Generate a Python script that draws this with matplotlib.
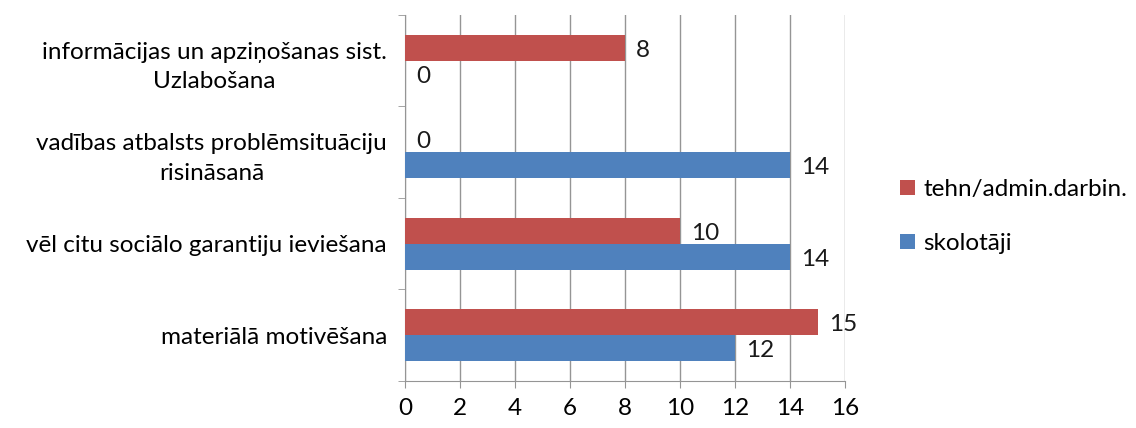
import numpy as np
import matplotlib
matplotlib.use('Agg')
import matplotlib.pyplot as plt
from matplotlib.ticker import FixedLocator

plt.rcParams['font.family'] = ['Lato', 'DejaVu Sans']

# kategorijas no apakšas uz augšu
categories = [
    'materiālā motivēšana',
    'vēl citu sociālo garantiju ieviešana',
    'vadības atbalsts problēmsituāciju\nrisināsanā',
    'informācijas un apziņošanas sist.\nUzlabošana',
]
skolotaji = [12, 14, 14, 0]
tehn_admin = [15, 10, 0, 8]
x_ticks = [0, 2, 4, 6, 8, 10, 12, 14, 16]

blue = '#4F81BD'
red = '#C0504D'
grid_col = '#959595'
fs = 17.5

fig = plt.figure(figsize=(11.36, 4.28), dpi=100)
ax = fig.add_axes([0.3565, 0.110, 0.3875, 0.855])

y = np.arange(len(categories))
h = 0.284
ax.barh(y - h / 2, skolotaji, height=h, color=blue, label='skolotāji', zorder=3)
ax.barh(y + h / 2, tehn_admin, height=h, color=red, label='tehn/admin.darbin.', zorder=3)

# vērtību etiķetes
for yi, v in zip(y, skolotaji):
    ax.text(v + 0.4, yi - h / 2 - 0.03, str(v), va='center', ha='left', fontsize=fs, color='#1a1a1a')
for yi, v in zip(y, tehn_admin):
    ax.text(v + 0.4, yi + h / 2 - 0.03, str(v), va='center', ha='left', fontsize=fs, color='#1a1a1a')

ax.set_xlim(0, 16)
ax.set_ylim(-0.5, len(categories) - 0.5)
ax.set_xticks(x_ticks)
ax.set_xticklabels([str(t) for t in x_ticks], fontsize=fs)
ax.set_yticks(y)
ax.set_yticklabels(categories, fontsize=fs, ha='right', multialignment='center',
                   linespacing=1.5)
ax.yaxis.set_minor_locator(FixedLocator(np.arange(-0.5, len(categories), 1.0)))

ax.tick_params(axis='y', which='major', length=0, pad=13)
ax.tick_params(axis='y', which='minor', length=5, color=grid_col)
ax.tick_params(axis='x', length=5, color=grid_col, pad=7)

ax.grid(axis='x', color=grid_col, linewidth=1, zorder=0)
for side in ['top', 'right']:
    ax.spines[side].set_visible(False)
for side in ['left', 'bottom']:
    ax.spines[side].set_color(grid_col)

handles, labels = ax.get_legend_handles_labels()
fig.legend(handles[::-1], labels[::-1], loc='center left', bbox_to_anchor=(0.773, 0.494),
           frameon=False, fontsize=fs, handlelength=0.6, handleheight=0.6,
           handletextpad=0.35, labelspacing=1.35)

fig.savefig('out.png', dpi=100)
